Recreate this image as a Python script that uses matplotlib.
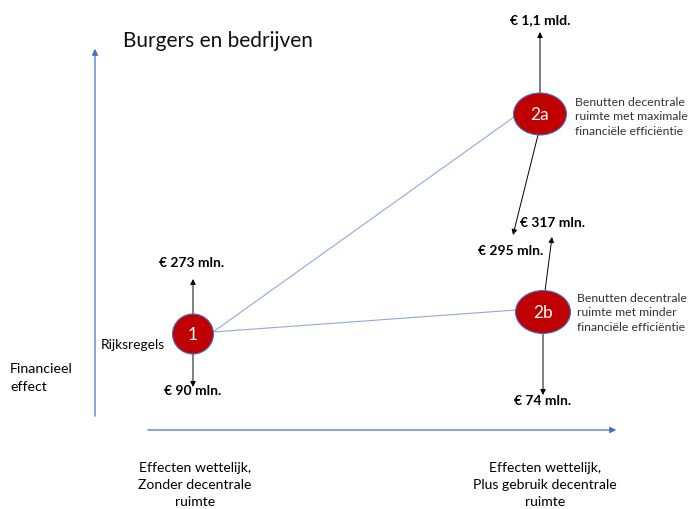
import matplotlib.pyplot as plt
from matplotlib.patches import Ellipse

plt.rcParams["font.family"] = ["Lato", "DejaVu Sans"]

# diagram data (pixel layout of the original slide)
nodes = ["1", "2a", "2b"]
node_x = [193, 540, 543]
node_y = [335, 115, 313]
node_w = [41, 53, 55]
node_h = [40, 42, 43]

# effect arrows: start, end, label, label position
arrow_start = [(193, 315), (193, 355), (540, 94), (538, 136), (545, 292), (543, 335)]
arrow_end = [(193, 280), (193, 388), (540, 33), (513, 236), (552, 238), (543, 396)]
effect_labels = ["€ 273 mln.", "€ 90 mln.", "€ 1,1 mld.", "€ 295 mln.", "€ 317 mln.", "€ 74 mln."]
effect_pos = [(192, 263), (193, 391), (540, 20), (511, 251), (553, 223), (543, 401)]

desc_2a = "Benutten decentrale\nruimte met maximale\nfinanciële efficiëntie"
desc_2b = "Benutten decentrale\nruimte met minder\nfinanciële efficiëntie"
x_labels = ["Effecten wettelijk,\nZonder decentrale\nruimte",
            "Effecten wettelijk,\nPlus gebruik decentrale\nruimte"]
x_label_pos = [195, 545]

blue = "#4472C4"
light_blue = "#8FAADC"
red = "#C00000"

fig = plt.figure(figsize=(6.88, 5.10), dpi=100)
ax = fig.add_axes([0, 0, 1, 1])
ax.set_xlim(0, 688)
ax.set_ylim(510, 0)
ax.axis("off")

# axes arrows
ax.annotate("", xy=(95, 47), xytext=(95, 420),
            arrowprops=dict(arrowstyle="-|>", color=blue, lw=0.9, mutation_scale=9))
ax.annotate("", xy=(619, 431), xytext=(145, 431),
            arrowprops=dict(arrowstyle="-|>", color=blue, lw=0.9, mutation_scale=9))

ax.text(123, 41, "Burgers en bedrijven", fontsize=15, va="center", ha="left", color="#111111")
ax.text(10, 378, "Financieel\neffect", fontsize=10.2, va="center", ha="left", linespacing=1.6)

# connecting lines
ax.plot([213, 514], [333, 118], color=light_blue, lw=0.8, zorder=1)
ax.plot([213, 516], [333, 311], color=light_blue, lw=0.8, zorder=1)

# effect arrows
for s, e in zip(arrow_start, arrow_end):
    ax.annotate("", xy=e, xytext=s,
                arrowprops=dict(arrowstyle="-|>", color="black", lw=0.7,
                                mutation_scale=8, shrinkA=0, shrinkB=0))

for lab, (x, y) in zip(effect_labels, effect_pos):
    ax.text(x, y, lab, fontsize=10, fontweight="bold", ha="center", va="center")

# nodes
for name, x, y, w, h in zip(nodes, node_x, node_y, node_w, node_h):
    ax.add_patch(Ellipse((x, y), w, h, facecolor=red, edgecolor=blue, lw=0.8, zorder=3))
    ax.text(x, y, name, color="white", fontsize=12.5, ha="center", va="center", zorder=4)

ax.text(165, 345, "Rijksregels", fontsize=9.9, ha="right", va="center")
ax.text(575, 117, desc_2a, fontsize=8.8, ha="left", va="center", linespacing=1.35, color="#333333")
ax.text(577, 313, desc_2b, fontsize=8.8, ha="left", va="center", linespacing=1.35, color="#333333")

for lab, x in zip(x_labels, x_label_pos):
    ax.text(x, 485, lab, fontsize=10.1, ha="center", va="center", linespacing=1.5)

fig.savefig("out.png", dpi=100)
